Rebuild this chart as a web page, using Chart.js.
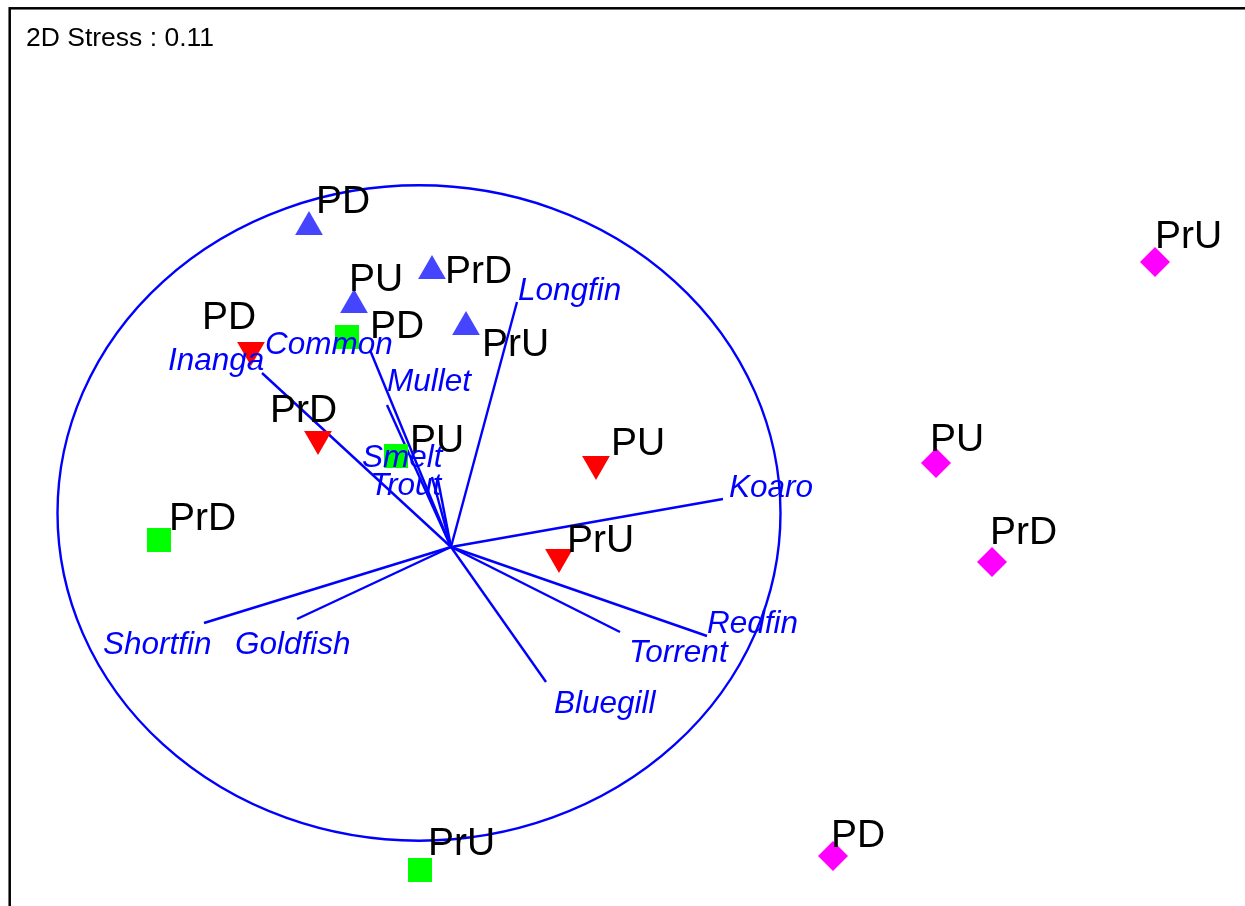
<!DOCTYPE html>
<html>
<head>
<meta charset="utf-8">
<script src="https://cdn.jsdelivr.net/npm/chart.js@4.4.1/dist/chart.umd.min.js"></script>
<style>
  html, body { margin: 0; padding: 0; background: #fff; }
  canvas { display: block; }
</style>
</head>
<body>
<canvas id="mds" width="1245" height="906"></canvas>
<script>
// nMDS site scores, one group per symbol (order follows `sites`)
const sites = ['PD', 'PU', 'PrD', 'PrU'];

const blueX = [-1.42, -0.97, -0.19, 0.15];
const blueY = [3.20, 2.42, 2.76, 2.20];

const redX = [-2.00, 1.45, -1.33, 1.08];
const redY = [1.97, 0.83, 1.08, -0.10];

const greenX = [-1.04, -0.55, -2.92, -0.31];
const greenY = [2.10, 0.91, 0.07, -3.23];

const pinkX = [3.82, 4.85, 5.41, 7.04];
const pinkY = [-3.09, 0.84, -0.15, 2.85];

// species vectors (from origin)
const species = ['Longfin', 'Koaro', 'Redfin', 'Torrent', 'Bluegill', 'Goldfish',
                 'Shortfin', 'Inanga', 'Common', 'Mullet', 'Smelt', 'Trout'];
const vecX = [0.66, 2.72, 2.56, 1.69, 0.95, -1.54, -2.47, -1.89, -0.81, -0.64, -0.19, -0.13];
const vecY = [2.45, 0.48, -0.89, -0.85, -1.35, -0.72, -0.76, 1.74, 1.97, 1.42, 0.70, 0.67];

const stress = 0.11;

// correlation circle (drawn squashed, like the original)
const circleCentre = [-0.32, 0.34];
const circleRadius = [3.615, 3.277];

// label nudges in pixels [dx, dy] from the point
const blueNudge = [[7, -14], [-5, -14], [13, 12], [16, 29]];
const redNudge = [[-49, -21], [15, -9], [-48, -17], [8, -5]];
const greenNudge = [[23, 1], [14, -4], [10, -10], [8, -15]];
const pinkNudge = [[-2, -9], [-6, -12], [-2, -18], [0, -14]];
const vecNudge = [[1, -2], [6, -2], [0, -3], [9, 30], [8, 31], [-62, 35],
                  [-101, 31], [-94, -3], [-105, 4], [0, -14], [-70, -10], [-68, 15]];

const pts = (xs, ys) => xs.map((v, i) => ({ x: v, y: ys[i] }));

const groups = [
  { xs: blueX, ys: blueY, nudge: blueNudge, color: '#4545ff', style: 'triangle', radius: 16, rotation: 0 },
  { xs: redX, ys: redY, nudge: redNudge, color: '#ff0000', style: 'triangle', radius: 16, rotation: 180 },
  { xs: greenX, ys: greenY, nudge: greenNudge, color: '#00ff00', style: 'rect', radius: 17, rotation: 0 },
  { xs: pinkX, ys: pinkY, nudge: pinkNudge, color: '#ff00ff', style: 'rectRot', radius: 15, rotation: 0 }
];

const datasets = [];
species.forEach((name, i) => {
  datasets.push({
    label: name,
    data: [{ x: 0, y: 0 }, { x: vecX[i], y: vecY[i] }],
    showLine: true,
    borderColor: '#0000ff',
    borderWidth: 2.4,
    pointRadius: 0,
    order: 2
  });
});
groups.forEach(g => {
  datasets.push({
    data: pts(g.xs, g.ys),
    pointStyle: g.style,
    pointRadius: g.radius,
    rotation: g.rotation,
    backgroundColor: g.color,
    borderWidth: 0,
    order: 1
  });
});

const overlay = {
  id: 'overlay',
  beforeDatasetsDraw(chart) {
    const { ctx, scales: { x, y } } = chart;
    const cx = x.getPixelForValue(circleCentre[0]);
    const cy = y.getPixelForValue(circleCentre[1]);
    const rx = Math.abs(x.getPixelForValue(circleCentre[0] + circleRadius[0]) - cx);
    const ry = Math.abs(y.getPixelForValue(circleCentre[1] + circleRadius[1]) - cy);
    ctx.save();
    ctx.strokeStyle = '#0000ff';
    ctx.lineWidth = 2.4;
    ctx.beginPath();
    ctx.ellipse(cx, cy, rx, ry, 0, 0, Math.PI * 2);
    ctx.stroke();
    ctx.restore();
  },
  afterDatasetsDraw(chart) {
    const { ctx, scales: { x, y } } = chart;
    ctx.save();
    ctx.textAlign = 'left';
    ctx.textBaseline = 'alphabetic';

    // site labels
    ctx.fillStyle = '#000';
    ctx.font = '39px "Liberation Sans", Arial, sans-serif';
    groups.forEach(g => {
      sites.forEach((s, i) => {
        ctx.fillText(s, x.getPixelForValue(g.xs[i]) + g.nudge[i][0],
                        y.getPixelForValue(g.ys[i]) + g.nudge[i][1]);
      });
    });

    // species labels
    ctx.fillStyle = '#0000ff';
    ctx.font = 'italic 31.5px "Liberation Sans", Arial, sans-serif';
    species.forEach((name, i) => {
      ctx.fillText(name, x.getPixelForValue(vecX[i]) + vecNudge[i][0],
                         y.getPixelForValue(vecY[i]) + vecNudge[i][1]);
    });
    ctx.restore();
  },
  afterDraw(chart) {
    const { ctx, chartArea } = chart;
    ctx.save();
    ctx.strokeStyle = '#000';
    ctx.lineWidth = 2.5;
    ctx.strokeRect(chartArea.left + 9.7, chartArea.top + 8.3, 2000, 2000);
    ctx.fillStyle = '#000';
    ctx.font = '26.5px "Liberation Sans", Arial, sans-serif';
    ctx.textAlign = 'left';
    ctx.textBaseline = 'alphabetic';
    ctx.fillText('2D Stress : ' + stress.toFixed(2), chartArea.left + 26, chartArea.top + 46);
    ctx.restore();
  }
};

new Chart(document.getElementById('mds'), {
  type: 'scatter',
  data: { datasets },
  options: {
    responsive: false,
    animation: false,
    devicePixelRatio: 1,
    events: [],
    layout: { padding: 0, autoPadding: false },
    plugins: { legend: { display: false }, tooltip: { enabled: false } },
    scales: {
      x: { type: 'linear', min: -4.51, max: 7.94, display: false },
      y: { type: 'linear', min: -3.59, max: 5.47, display: false }
    }
  },
  plugins: [overlay]
});
</script>
</body>
</html>
